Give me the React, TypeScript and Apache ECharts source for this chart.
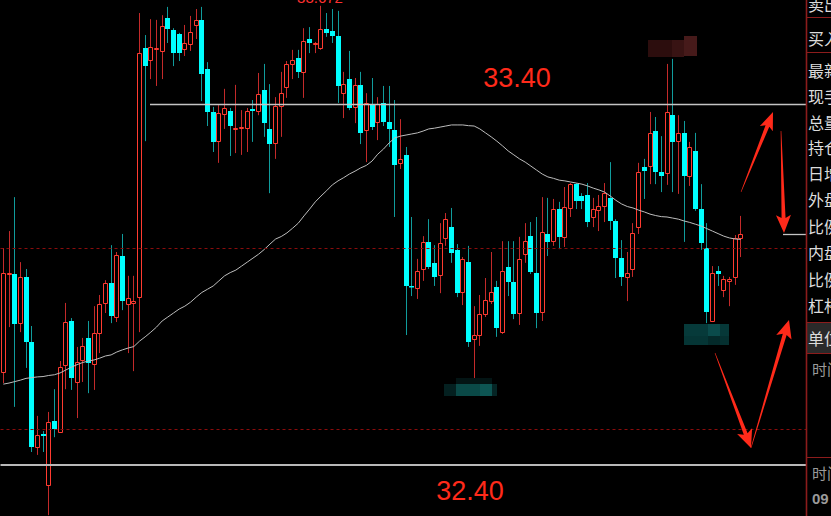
import React, { useEffect, useRef } from 'react';
import * as echarts from 'echarts';

// ---- candle data (open, close, low, high) ----
const opens = [
  32.658, 32.929, 32.929, 32.793, 32.921, 32.741, 32.450, 32.486, 32.345, 32.522,
  32.491, 32.677, 32.799, 32.630, 32.691, 32.752, 32.680, 32.766, 32.849, 32.904,
  32.810, 32.979, 32.846, 32.849, 32.865, 33.555, 33.522, 33.552, 33.547, 33.638,
  33.605, 33.594, 33.552, 33.566, 33.619, 33.633, 33.497, 33.378, 33.297, 33.372,
  33.381, 33.331, 33.333, 33.333, 33.386, 33.381, 33.439, 33.331, 33.292, 33.394,
  33.447, 33.511, 33.527, 33.489, 33.580, 33.566, 33.555, 33.608, 33.602, 33.588,
  33.430, 33.469, 33.392, 33.453, 33.328, 33.397, 33.350, 33.403, 33.350, 33.328,
  33.237, 33.259, 32.896, 32.890, 32.943, 33.018, 32.960, 32.926, 33.029, 33.059,
  32.996, 32.879, 32.962, 32.749, 32.760, 32.818, 32.854, 32.893, 32.768, 32.948,
  32.907, 32.821, 32.984, 33.034, 32.932, 32.824, 33.040, 33.020, 33.109, 33.032,
  33.112, 33.178, 33.145, 33.148, 33.087, 33.106, 33.117, 33.140, 33.076, 32.973,
  32.921, 32.943, 33.059, 33.225, 33.228, 33.325, 33.212, 33.209, 33.369, 33.297,
  33.320, 33.201, 33.270, 33.109, 33.001, 32.799, 32.937, 32.885, 32.910, 32.921,
  33.029,
];
const closes = [
  32.932, 32.932, 32.790, 32.921, 32.741, 32.450, 32.483, 32.480, 32.519, 32.499,
  32.671, 32.796, 32.641, 32.685, 32.730, 32.683, 32.766, 32.846, 32.904, 32.813,
  32.982, 32.854, 32.863, 32.854, 33.541, 33.505, 33.558, 33.555, 33.616, 33.608,
  33.541, 33.541, 33.569, 33.599, 33.633, 33.483, 33.378, 33.295, 33.375, 33.389,
  33.339, 33.333, 33.336, 33.381, 33.381, 33.428, 33.347, 33.289, 33.394, 33.430,
  33.511, 33.522, 33.489, 33.574, 33.569, 33.569, 33.608, 33.597, 33.588, 33.450,
  33.455, 33.389, 33.453, 33.320, 33.403, 33.336, 33.400, 33.350, 33.331, 33.231,
  33.248, 32.896, 32.893, 32.937, 33.018, 32.948, 32.921, 33.015, 33.081, 32.987,
  32.876, 32.971, 32.741, 32.760, 32.818, 32.857, 32.879, 32.779, 32.937, 32.907,
  32.818, 32.971, 33.020, 32.935, 32.821, 33.045, 33.018, 33.109, 33.032, 33.115,
  33.178, 33.131, 33.131, 33.073, 33.109, 33.117, 33.153, 33.076, 32.973, 32.921,
  32.932, 33.043, 33.212, 33.214, 33.320, 33.212, 33.201, 33.378, 33.295, 33.320,
  33.201, 33.281, 33.109, 33.015, 32.824, 32.932, 32.929, 32.915, 32.915, 33.029,
  33.040,
];
const lows = [
  32.627, 32.782, 32.561, 32.768, 32.669, 32.436, 32.428, 32.436, 32.261, 32.477,
  32.489, 32.610, 32.608, 32.530, 32.630, 32.599, 32.608, 32.710, 32.821, 32.793,
  32.796, 32.829, 32.710, 32.660, 32.768, 33.297, 33.469, 33.450, 33.469, 33.569,
  33.505, 33.519, 33.533, 33.547, 33.580, 33.408, 33.339, 33.267, 33.237, 33.331,
  33.256, 33.264, 33.259, 33.267, 33.295, 33.369, 33.309, 33.153, 33.248, 33.309,
  33.417, 33.469, 33.472, 33.417, 33.541, 33.541, 33.550, 33.586, 33.569, 33.403,
  33.361, 33.383, 33.347, 33.289, 33.239, 33.328, 33.300, 33.339, 33.281, 33.087,
  33.220, 32.760, 32.868, 32.860, 32.910, 32.943, 32.896, 32.876, 33.007, 32.960,
  32.865, 32.843, 32.727, 32.641, 32.730, 32.810, 32.846, 32.755, 32.763, 32.868,
  32.804, 32.788, 32.960, 32.929, 32.779, 32.799, 32.979, 33.007, 32.998, 33.004,
  33.087, 33.109, 33.109, 33.059, 33.059, 33.048, 33.073, 33.051, 32.918, 32.896,
  32.854, 32.921, 33.040, 33.137, 33.178, 33.178, 33.156, 33.176, 33.156, 33.151,
  33.018, 33.173, 33.104, 32.996, 32.793, 32.796, 32.896, 32.865, 32.840, 32.899,
  32.976,
];
const highs = [
  33.001, 33.048, 33.142, 32.962, 32.943, 32.785, 32.536, 32.494, 32.547, 32.610,
  32.688, 32.849, 32.807, 32.727, 32.752, 32.799, 32.840, 32.871, 32.912, 33.009,
  32.990, 33.040, 32.924, 32.924, 33.652, 33.591, 33.635, 33.633, 33.646, 33.669,
  33.610, 33.597, 33.619, 33.644, 33.663, 33.669, 33.516, 33.392, 33.397, 33.442,
  33.389, 33.453, 33.383, 33.389, 33.411, 33.486, 33.511, 33.455, 33.419, 33.489,
  33.519, 33.550, 33.550, 33.610, 33.613, 33.572, 33.672, 33.652, 33.663, 33.658,
  33.489, 33.547, 33.472, 33.489, 33.430, 33.472, 33.419, 33.450, 33.450, 33.411,
  33.358, 33.281, 33.087, 32.971, 33.034, 33.081, 33.009, 33.070, 33.098, 33.112,
  33.012, 32.976, 33.007, 32.840, 32.871, 32.918, 32.990, 32.910, 33.020, 33.020,
  33.020, 33.032, 33.070, 33.073, 33.087, 33.142, 33.140, 33.137, 33.129, 33.170,
  33.181, 33.181, 33.153, 33.181, 33.140, 33.148, 33.181, 33.239, 33.081, 33.023,
  32.990, 33.070, 33.237, 33.248, 33.378, 33.364, 33.311, 33.511, 33.525, 33.369,
  33.353, 33.295, 33.320, 33.178, 33.070, 32.951, 32.951, 32.924, 32.921, 33.037,
  33.090,
];
// moving-average line
const maLine = [
  32.624, 32.627, 32.631, 32.635, 32.640, 32.642, 32.644, 32.645, 32.648, 32.650,
  32.655, 32.663, 32.671, 32.678, 32.684, 32.688, 32.691, 32.696, 32.702, 32.705,
  32.713, 32.719, 32.724, 32.728, 32.743, 32.755, 32.768, 32.782, 32.799, 32.810,
  32.821, 32.832, 32.840, 32.851, 32.865, 32.878, 32.887, 32.896, 32.910, 32.924,
  32.933, 32.940, 32.951, 32.962, 32.973, 32.984, 32.997, 33.012, 33.026, 33.033,
  33.043, 33.056, 33.070, 33.090, 33.109, 33.129, 33.145, 33.160, 33.176, 33.187,
  33.196, 33.206, 33.214, 33.223, 33.230, 33.242, 33.261, 33.275, 33.292, 33.306,
  33.311, 33.314, 33.317, 33.320, 33.325, 33.331, 33.333, 33.336, 33.339, 33.342,
  33.342, 33.342, 33.340, 33.339, 33.331, 33.320, 33.309, 33.297, 33.284, 33.270,
  33.259, 33.248, 33.239, 33.228, 33.217, 33.206, 33.198, 33.194, 33.189, 33.187,
  33.184, 33.181, 33.178, 33.173, 33.167, 33.162, 33.156, 33.145, 33.133, 33.123,
  33.116, 33.112, 33.106, 33.101, 33.095, 33.091, 33.088, 33.087, 33.084, 33.081,
  33.076, 33.072, 33.067, 33.062, 33.055, 33.048, 33.041, 33.034, 33.029, 33.026,
  33.025,
];
const SLOT_COUNT = 142; // visible time slots (empty ones to the right)
const UPPER_LEVEL = 33.40;
const LOWER_LEVEL = 32.40;
const DASHED_LEVELS = [33.00, 32.50];
const LAST_PRICE = 33.040;
const MAX_LABEL = '33.672';
const upperText = '33.40';
const lowerText = '32.40';
const panelRows = ['卖出', '买入', '最新', '现手', '总量', '持仓', '日增', '外盘', '比例', '内盘', '比例', '杠杆', '单位'];
const panelTimeRows = ['时间', '时间', '09'];

// axis range so that 33.40 and 32.40 fall at their reference heights
const Y_MAX = UPPER_LEVEL + 104 / 361;
const Y_MIN = LOWER_LEVEL - 51 / 361;

const RED = '#ff3b30';
const RED_WICK = '#c42a2a';
const CYAN = '#00ffff';
const CYAN_WICK = '#109c9c';

function arrowPoints(tx: number, ty: number, hx: number, hy: number, headLen: number, headHalf: number, shaftW: number) {
  const dx = hx - tx, dy = hy - ty;
  const L = Math.hypot(dx, dy);
  const ux = dx / L, uy = dy / L;
  const nx = -uy, ny = ux;
  const bx = hx - ux * headLen, by = hy - uy * headLen;
  const wx = bx - ux * 3, wy = by - uy * 3;
  return [
    [tx + nx * 0.3, ty + ny * 0.3],
    [bx + nx * shaftW / 2, by + ny * shaftW / 2],
    [wx + nx * headHalf, wy + ny * headHalf],
    [hx, hy],
    [wx - nx * headHalf, wy - ny * headHalf],
    [bx - nx * shaftW / 2, by - ny * shaftW / 2],
    [tx - nx * 0.3, ty - ny * 0.3],
  ];
}

export default function App() {
  const ref = useRef<HTMLDivElement>(null);
  useEffect(() => {
    const chart = echarts.init(ref.current!, null, { renderer: 'svg' });
    const candleData = opens.map((o, i) => [i, o, closes[i], lows[i], highs[i]]);
    const slots = Array.from({ length: SLOT_COUNT }, (_, i) => String(i));

    chart.setOption({
      animation: false,
      backgroundColor: '#000',
      grid: { left: 0.5, top: 0, width: 805.5, bottom: 0 },
      xAxis: { type: 'category', data: slots, boundaryGap: true, show: false },
      yAxis: { type: 'value', min: Y_MIN, max: Y_MAX, show: false, splitLine: { show: false } },
      series: [
        {
          type: 'custom',
          data: candleData,
          encode: { x: 0, y: [1, 2, 3, 4] },
          renderItem: (params: any, api: any) => {
            const i = api.value(0);
            const o = api.value(1), c = api.value(2), l = api.value(3), h = api.value(4);
            const up = c >= o;
            const pO = api.coord([i, o]);
            const pC = api.coord([i, c]);
            const pL = api.coord([i, l]);
            const pH = api.coord([i, h]);
            const xi = Math.floor(pO[0]);
            const top = Math.round(Math.min(pO[1], pC[1]));
            const bot = Math.round(Math.max(pO[1], pC[1]));
            const children: any[] = [
              {
                type: 'line',
                shape: { x1: xi + 0.5, y1: pH[1], x2: xi + 0.5, y2: pL[1] },
                style: { stroke: up ? RED_WICK : CYAN_WICK, lineWidth: 1 },
              },
            ];
            if (up) {
              children.push({
                type: 'rect',
                shape: { x: xi - 1.5, y: top + 0.5, width: 4, height: Math.max(bot - top, 1) },
                style: { fill: '#000', stroke: RED, lineWidth: 1 },
              });
            } else {
              children.push({
                type: 'rect',
                shape: { x: xi - 2, y: top, width: 5, height: Math.max(bot - top, 1.5) },
                style: { fill: CYAN },
              });
            }
            return { type: 'group', children };
          },
          z: 3,
        },
        {
          type: 'line',
          data: maLine,
          showSymbol: false,
          symbol: 'none',
          lineStyle: { color: '#bdbdbd', width: 1 },
          z: 4,
          silent: true,
          markLine: {
            silent: true,
            symbol: 'none',
            label: { show: false },
            animation: false,
            data: [
              { yAxis: LOWER_LEVEL, lineStyle: { color: '#b8b8b8', width: 2, type: 'solid' } },
              ...DASHED_LEVELS.map((v) => ({
                yAxis: v,
                lineStyle: { color: '#8a0c0c', width: 1, type: [3, 3] },
              })),
            ],
          },
        },
      ],
    });

    const yUpper = Math.round(chart.convertToPixel({ yAxisIndex: 0 }, UPPER_LEVEL) as number) + 0.5;
    const yLast = Math.round(chart.convertToPixel({ yAxisIndex: 0 }, LAST_PRICE) as number) + 0.5;

    const arrows = [
      arrowPoints(741, 192, 773, 112, 15, 7, 4),
      arrowPoints(781, 131, 784, 233, 15, 7.5, 4),
      arrowPoints(715, 353, 751, 448, 15, 8, 4),
      arrowPoints(751, 448, 789, 320, 15, 8, 4),
    ];

    const mosaic: [number, number, number, number, string][] = [
      [648, 40, 24, 17, '#2c0d0d'],
      [672, 40, 12, 17, '#381313'],
      [684, 36, 13, 20, '#461a1a'],
      [456, 378, 36, 6, '#031414'],
      [444, 384, 12, 12, '#042020'],
      [456, 384, 24, 12, '#0a4947'],
      [480, 384, 12, 12, '#0d5553'],
      [492, 384, 5, 12, '#052525'],
      [684, 324, 24, 12, '#063a3a'],
      [708, 324, 12, 12, '#0a4b4b'],
      [720, 324, 9, 12, '#063838'],
      [684, 336, 24, 9, '#053535'],
      [708, 336, 12, 9, '#042a2a'],
      [720, 336, 9, 9, '#053030'],
    ];

    const panelY = [4, 38, 70, 96, 121.5, 147, 173, 199, 225.5, 252, 278.5, 305, 338];
    const graphics: any[] = [
      {
        type: 'line', z: 100,
        shape: { x1: 150, y1: yUpper, x2: 806, y2: yUpper },
        style: { stroke: '#c4c4c4', lineWidth: 1.3 },
      },
      {
        type: 'line', z: 100,
        shape: { x1: 783, y1: yLast, x2: 806, y2: yLast },
        style: { stroke: '#c4c4c4', lineWidth: 1.3 },
      },
      ...mosaic.map(([x, y, w, h, c]) => ({
        type: 'rect', z: 100, shape: { x, y, width: w, height: h }, style: { fill: c },
      })),
      ...arrows.map((pts) => ({
        type: 'polygon', z: 101, shape: { points: pts }, style: { fill: '#ff2a1a' },
      })),
      {
        type: 'text', z: 100, x: 517, y: 78,
        style: { text: upperText, fill: '#ff2a1a', fontSize: 27, fontFamily: 'Liberation Sans', align: 'center', verticalAlign: 'middle' },
      },
      {
        type: 'text', z: 100, x: 470, y: 491,
        style: { text: lowerText, fill: '#ff2a1a', fontSize: 27, fontFamily: 'Liberation Sans', align: 'center', verticalAlign: 'middle' },
      },
      {
        type: 'text', z: 100, x: 320, y: -3,
        style: { text: MAX_LABEL, fill: '#ff3030', fontSize: 15, fontFamily: 'Liberation Sans', align: 'center', verticalAlign: 'middle' },
      },
      // right info panel
      { type: 'rect', z: 110, shape: { x: 806, y: 0, width: 25, height: 516 }, style: { fill: '#000' } },
      { type: 'rect', z: 110, shape: { x: 807, y: 322, width: 24, height: 31 }, style: { fill: '#2a2a2a' } },
      { type: 'line', z: 112, shape: { x1: 806.5, y1: 0, x2: 806.5, y2: 516 }, style: { stroke: '#8c1c1c', lineWidth: 1.6 } },
      ...[17, 52, 322, 353, 457].map((y) => ({
        type: 'line', z: 112, shape: { x1: 806, y1: y + 0.5, x2: 831, y2: y + 0.5 }, style: { stroke: '#8c1c1c', lineWidth: 1 },
      })),
      ...panelRows.map((t, i) => ({
        type: 'text', z: 113, x: 808, y: panelY[i],
        style: { text: t, fill: '#dcdcdc', fontSize: 16, fontFamily: 'Noto Sans CJK SC', align: 'left', verticalAlign: 'middle' },
      })),
      ...panelTimeRows.map((t, i) => ({
        type: 'text', z: 113, x: 812, y: [368, 472, 498][i],
        style: {
          text: t, fill: '#9a9a9a', fontSize: i === 2 ? 15 : 15,
          fontWeight: i === 2 ? 'bold' : 'normal',
          fontFamily: i === 2 ? 'Liberation Sans' : 'Noto Sans CJK SC',
          align: 'left', verticalAlign: 'middle',
        },
      })),
    ];
    chart.setOption({ graphic: graphics });

    return () => chart.dispose();
  }, []);
  return (
    <div
      ref={ref}
      style={{ position: 'fixed', left: 0, top: 0, width: 831, height: 516, background: '#000' }}
    />
  );
}
